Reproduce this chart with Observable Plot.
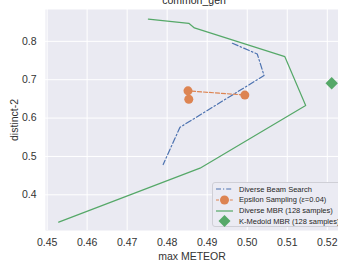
<!DOCTYPE html>
<html>
<head>
<meta charset="utf-8">
<script src="https://cdn.jsdelivr.net/npm/d3@7"></script>
<script src="https://cdn.jsdelivr.net/npm/@observablehq/plot@0.6"></script>
<style>
  html, body { margin: 0; padding: 0; background: white; }
  #wrap { position: relative; width: 338px; height: 262px; overflow: hidden; }
  #legend { position: absolute; left: 212px; top: 182px; width: 132px; height: 45px;
    background: #ebebf3; border: 1px solid #cfcfd6; border-radius: 3px; box-sizing: border-box;
    font-family: "Liberation Sans", Arial, sans-serif; font-size: 7.5px; color: #262626; }
  .row { position: absolute; left: 2px; height: 11px; display: flex; align-items: center; white-space: nowrap; }
  .row svg { margin-right: 4px; }
</style>
</head>
<body>
<div id="wrap"><div id="legend"></div></div>
<script>
// Diverse Beam Search
const dbsX = [0.4963, 0.5025, 0.5042, 0.4832, 0.4790];
const dbsY = [0.795, 0.767, 0.711, 0.576, 0.479];
// Epsilon Sampling (eps=0.04)
const epsX = [0.4854, 0.4852, 0.4994];
const epsY = [0.649, 0.671, 0.660];
// Diverse MBR (128 samples)
const dmbrX = [0.4753, 0.4854, 0.4868, 0.5094, 0.5146, 0.4882, 0.4529];
const dmbrY = [0.858, 0.847, 0.835, 0.760, 0.633, 0.4695, 0.3287];
// K-Medoid MBR (128 samples)
const kmX = [0.5211];
const kmY = [0.691];

const xTicks = [0.45, 0.46, 0.47, 0.48, 0.49, 0.50, 0.51, 0.52];
const yTicks = [0.4, 0.5, 0.6, 0.7, 0.8];
const seriesNames = ["Diverse Beam Search", "Epsilon Sampling (ε=0.04)", "Diverse MBR (128 samples)", "K-Medoid MBR (128 samples)"];
const colors = {blue: "#4c72b0", orange: "#dd8452", green: "#55a868"};

const toRows = (xs, ys) => xs.map((x, i) => ({x, y: ys[i]}));
const dbs = toRows(dbsX, dbsY), eps = toRows(epsX, epsY), dmbr = toRows(dmbrX, dmbrY), km = toRows(kmX, kmY);

const chart = Plot.plot({
  width: 338, height: 262,
  marginTop: 9, marginLeft: 45, marginRight: 0, marginBottom: 32,
  style: {background: "white", fontFamily: "'Liberation Sans', Arial, sans-serif", fontSize: "10.5px", color: "#333", overflow: "visible"},
  x: {domain: [0.4496, 0.5228]},
  y: {domain: [0.307, 0.883]},
  marks: [
    Plot.frame({fill: "#eaeaf2", stroke: null}),
    Plot.gridX(xTicks, {stroke: "white", strokeOpacity: 1, strokeWidth: 1}),
    Plot.gridY(yTicks, {stroke: "white", strokeOpacity: 1, strokeWidth: 1}),
    Plot.axisX(xTicks, {tickSize: 0, tickPadding: 8, tickFormat: d3.format(".2f"), label: "max METEOR", labelAnchor: "center", labelArrow: "none", labelOffset: 29, fontSize: 10.5}),
    Plot.axisY(yTicks, {tickSize: 0, tickPadding: 9, tickFormat: d3.format(".1f"), label: "distinct-2", labelAnchor: "center", labelArrow: "none", labelOffset: 35, fontSize: 10.5}),
    Plot.line(dmbr, {x: "x", y: "y", stroke: colors.green, strokeWidth: 1.2}),
    Plot.line(dbs, {x: "x", y: "y", stroke: colors.blue, strokeWidth: 1.2, strokeDasharray: "6,2.4,1.5,2.4"}),
    Plot.line(eps, {x: "x", y: "y", stroke: colors.orange, strokeWidth: 1.2, strokeDasharray: "4,2"}),
    Plot.dot(eps, {x: "x", y: "y", r: 4.5, fill: colors.orange, stroke: null}),
    Plot.dot(km, {x: "x", y: "y", r: 5.6, symbol: "diamond2", fill: colors.green, stroke: null}),
    Plot.text(["common_gen"], {frameAnchor: "top", dx: 2, dy: -6, lineAnchor: "bottom", fontSize: 10.5, fill: "#262626"})
  ]
});
document.getElementById("wrap").prepend(chart);

// legend
const handles = [
  `<line x1="1" x2="18" y1="6" y2="6" stroke="${colors.blue}" stroke-width="1.2" stroke-dasharray="5,2,1.2,2"/>`,
  `<line x1="1" x2="18" y1="6" y2="6" stroke="${colors.orange}" stroke-width="1.2" stroke-dasharray="3,1.6"/><circle cx="9.5" cy="6" r="4.5" fill="${colors.orange}"/>`,
  `<line x1="1" x2="18" y1="6" y2="6" stroke="${colors.green}" stroke-width="1.2"/>`,
  `<path d="M9.5,0 L15.5,6 L9.5,12 L3.5,6 Z" fill="${colors.green}"/>`
];
const legend = document.getElementById("legend");
seriesNames.forEach((name, i) => {
  const row = document.createElement("div");
  row.className = "row";
  row.style.top = (0.5 + i * 10.8) + "px";
  const label = name.replace("ε", "<i>ε</i>");
  row.innerHTML = `<svg width="20" height="12" style="overflow:visible">${handles[i]}</svg><span>${label}</span>`;
  legend.appendChild(row);
});
</script>
</body>
</html>
